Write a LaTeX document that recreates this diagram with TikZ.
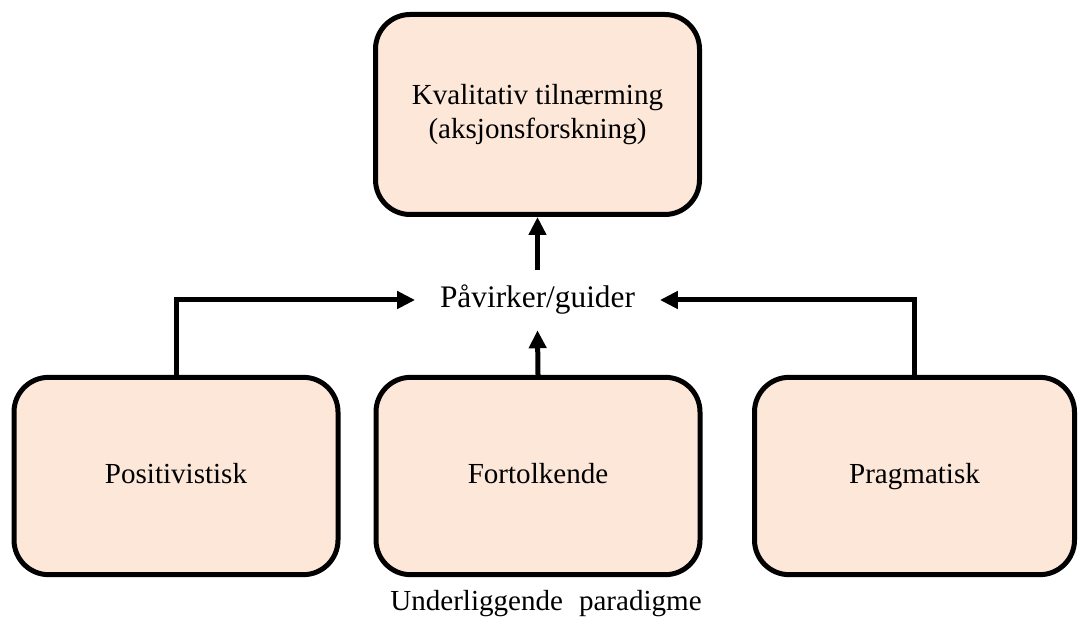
\documentclass[tikz,border=0pt]{standalone}
\usepackage{fontspec}
\setmainfont{Liberation Serif}
\usetikzlibrary{arrows.meta}
\definecolor{boxfill}{HTML}{FCE7D9}
\begin{document}
\begin{tikzpicture}[x=0.75pt,y=-0.75pt,
  font=\fontsize{21.8}{25}\selectfont,
  box/.style={draw=black, fill=boxfill, line width=3.75pt, rounded corners=26pt,
    minimum width=243pt, align=center, inner sep=0pt},
  topbox/.style={box, minimum height=150pt},
  lowbox/.style={box, minimum height=148pt, text height=15pt, text depth=4.5pt},
  conn/.style={draw=black, line width=3.75pt,
    -{Triangle[length=13.5pt,width=12.75pt]}},
  hub/.style={font=\fontsize{23.5}{27}\selectfont,
    inner xsep=18.5pt, inner ysep=0pt, minimum height=45pt}]
  \useasboundingbox (0,0) rectangle (1078,634);

  % research approach
  \node[topbox] (appr) at (537.5,114.5) {Kvalitativ tilnærming\\(aksjonsforskning)};

  % the three paradigms
  \node[lowbox] (pos)  at (176,476)   {Positivistisk};
  \node[lowbox] (fort) at (538,476)   {Fortolkende};
  \node[lowbox, minimum width=240pt] (prag) at (914.5,476) {Pragmatisk};

  % central relation
  \node[hub] (pv) at (537.5,300) {Påvirker/guider};

  \node (cap) at (546,604) {Underliggende\hspace{0.3em} paradigme};

  % connectors
  \draw[conn] (pos.north) |- (pv.west);
  \draw[conn] (prag.north) |- (pv.east);
  \draw[conn] (fort.north) -- (pv.south);
  \draw[conn] (pv.north) -- (appr.south);
\end{tikzpicture}
\end{document}
